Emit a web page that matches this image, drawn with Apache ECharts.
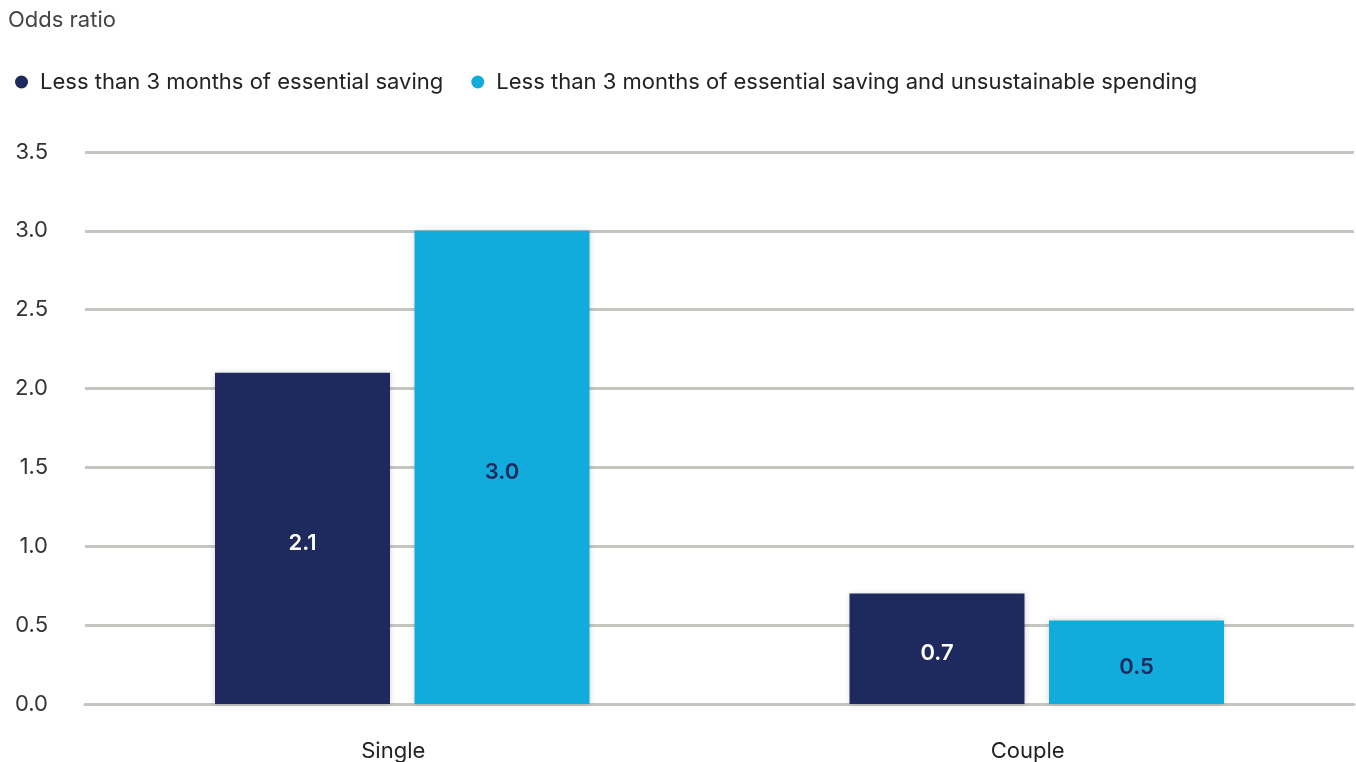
<!DOCTYPE html>
<html>
<head>
<meta charset="utf-8">
<script src="https://cdn.jsdelivr.net/npm/echarts@6/dist/echarts.min.js"></script>
<style>
html,body{margin:0;padding:0;background:#fff;}
#chart{width:1356px;height:762px;}
</style>
</head>
<body>
<div id="chart"></div>
<script>
const categories = ['Single', 'Couple'];
const seriesNames = ['Less than 3 months of essential saving', 'Less than 3 months of essential saving and unsustainable spending'];
const savingOnly = [2.1, 0.7];
const savingAndSpending = [3.0, 0.53];
const yTicks = { min: 0, max: 3.5, interval: 0.5 };

const FONT = 'Inter';
const chart = echarts.init(document.getElementById('chart'));
chart.setOption({
  animation: false,
  textStyle: { fontFamily: FONT },
  title: {
    text: 'Odds ratio', left: 3, top: 4,
    textStyle: { fontFamily: FONT, fontSize: 22, fontWeight: 'normal', color: '#444' }
  },
  legend: {
    left: 10, top: 66, itemGap: 28, itemWidth: 13, itemHeight: 13,
    icon: 'circle',
    textStyle: { fontFamily: FONT, fontSize: 22, color: '#222', padding: [0, 0, 0, 7] },
    data: seriesNames
  },
  grid: { left: 85, right: 2, top: 152, bottom: 58, containLabel: false },
  xAxis: {
    type: 'category', data: categories,
    axisLine: { show: true, lineStyle: { color: '#c6c6c0', width: 3 } },
    axisTick: { show: false },
    axisLabel: { fontFamily: FONT, fontSize: 22, color: '#222', margin: 36, padding: [0, 18, 0, 0] }
  },
  yAxis: {
    type: 'value', min: yTicks.min, max: yTicks.max, interval: yTicks.interval,
    axisLine: { show: false }, axisTick: { show: false },
    axisLabel: { fontFamily: FONT, fontSize: 22, color: '#333', margin: 37,
      formatter: v => v.toFixed(1) },
    splitLine: { lineStyle: { color: '#c6c6c0', width: 3 } }
  },
  series: [
    {
      name: seriesNames[0], type: 'bar', data: savingOnly,
      barWidth: 175, barGap: '14%',
      itemStyle: { color: '#1e2a5e', shadowBlur: 6, shadowColor: 'rgba(0,0,0,0.18)' },
      label: { show: true, position: 'inside', offset: [0, 5], fontFamily: FONT, fontSize: 22, fontWeight: 600, color: '#fff',
        formatter: p => p.value.toFixed(1) }
    },
    {
      name: seriesNames[1], type: 'bar', data: savingAndSpending,
      barWidth: 175,
      itemStyle: { color: '#12acdc', shadowBlur: 6, shadowColor: 'rgba(0,0,0,0.18)' },
      label: { show: true, position: 'inside', offset: [0, 5], fontFamily: FONT, fontSize: 22, fontWeight: 600, color: '#1e2a5e',
        formatter: p => p.value.toFixed(1) }
    }
  ]
});
</script>
</body>
</html>
